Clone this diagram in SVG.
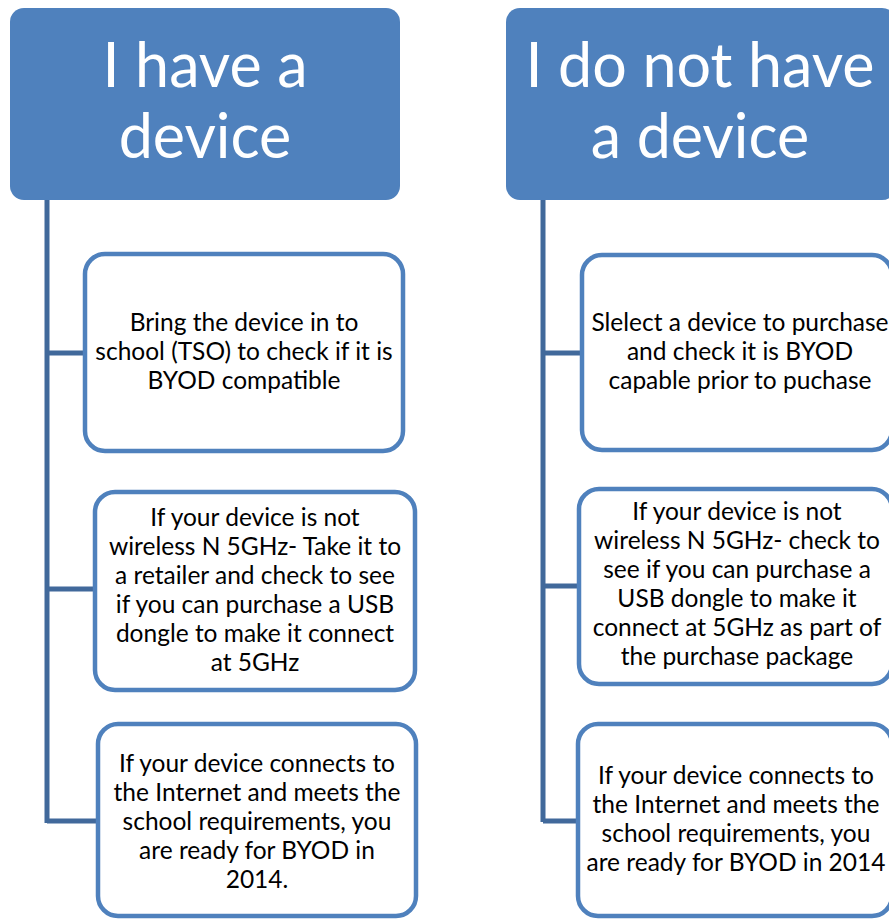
<svg xmlns="http://www.w3.org/2000/svg" width="889" height="920" viewBox="0 0 889 920">
<style>
.hdr{fill:#4F81BD;}
.htxt{fill:#FFFFFF;font-family:Lato,"Liberation Sans",sans-serif;font-size:61px;text-anchor:middle;}
.box{fill:#FFFFFF;stroke:#4F81BD;stroke-width:4.5;}
.txt{fill:#000000;font-family:Lato,"Liberation Sans",sans-serif;font-size:24.5px;text-anchor:middle;}
.con{fill:none;stroke:#41699B;stroke-width:5;}
</style>
<rect width="889" height="920" fill="#FFFFFF"/>
<g id="connectors">
<path class="con" d="M47,200 V823 M47,353 H85 M47,589 H95 M47,821 H98"/>
<path class="con" d="M543,200 V822 M543,353 H582 M543,586 H579 M543,821 H578"/>
</g>
<g id="hdr-left">
<rect class="hdr" x="10" y="8" width="390" height="192" rx="14"/>
<text class="htxt" x="205" y="87">I have a</text>
<text class="htxt" x="205" y="158">device</text>
</g>
<g id="hdr-right">
<rect class="hdr" x="506" y="8" width="390" height="192" rx="14"/>
<text class="htxt" x="700" y="87">I do not have</text>
<text class="htxt" x="700" y="158">a device</text>
</g>
<g id="l1">
<rect class="box" x="85" y="254" width="318" height="197" rx="20"/>
<text class="txt" x="244" y="331">Bring the device in to</text>
<text class="txt" x="244" y="360">school (TSO) to check if it is</text>
<text class="txt" x="244" y="389">BYOD compatible</text>
</g>
<g id="l2">
<rect class="box" x="95" y="492" width="320" height="198" rx="20"/>
<text class="txt" x="255" y="526">If your device is not</text>
<text class="txt" x="255" y="555">wireless N 5GHz- Take it to</text>
<text class="txt" x="255" y="584">a retailer and check to see</text>
<text class="txt" x="255" y="613">if you can purchase a USB</text>
<text class="txt" x="255" y="642">dongle to make it connect</text>
<text class="txt" x="255" y="671">at 5GHz</text>
</g>
<g id="l3">
<rect class="box" x="98" y="724" width="318" height="192" rx="20"/>
<text class="txt" x="257" y="772">If your device connects to</text>
<text class="txt" x="257" y="801">the Internet and meets the</text>
<text class="txt" x="257" y="830">school requirements, you</text>
<text class="txt" x="257" y="859">are ready for BYOD in</text>
<text class="txt" x="257" y="888">2014.</text>
</g>
<g id="r1">
<rect class="box" x="582" y="255" width="310" height="195" rx="20"/>
<text class="txt" x="740" y="331">Slelect a device to purchase</text>
<text class="txt" x="740" y="360">and check it is BYOD</text>
<text class="txt" x="740" y="389">capable prior to puchase</text>
</g>
<g id="r2">
<rect class="box" x="579" y="489" width="313" height="195" rx="20"/>
<text class="txt" x="737" y="520">If your device is not</text>
<text class="txt" x="737" y="549">wireless N 5GHz- check to</text>
<text class="txt" x="737" y="578">see if you can purchase a</text>
<text class="txt" x="737" y="607">USB dongle to make it</text>
<text class="txt" x="737" y="636">connect at 5GHz as part of</text>
<text class="txt" x="737" y="665">the purchase package</text>
</g>
<g id="r3">
<rect class="box" x="578" y="724" width="314" height="192" rx="20"/>
<text class="txt" x="736" y="784">If your device connects to</text>
<text class="txt" x="736" y="813">the Internet and meets the</text>
<text class="txt" x="736" y="842">school requirements, you</text>
<text class="txt" x="736" y="871">are ready for BYOD in 2014</text>
</g>
</svg>
